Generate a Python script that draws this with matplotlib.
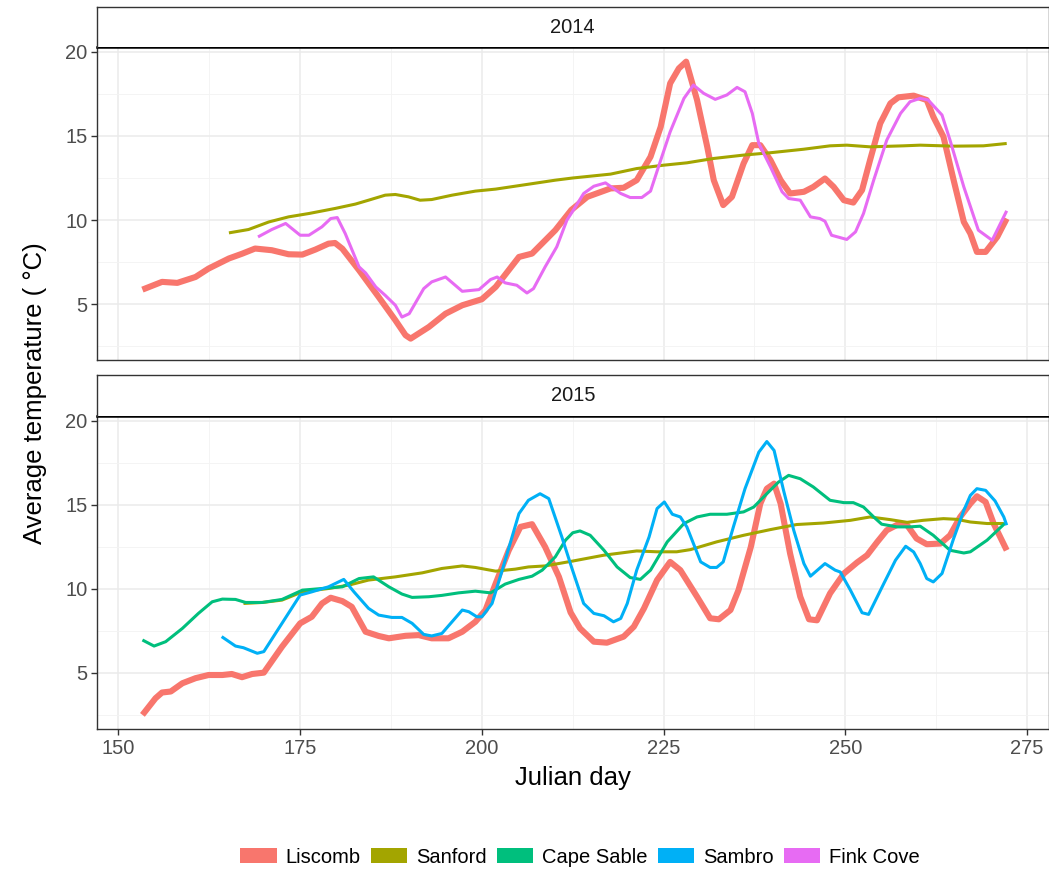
import matplotlib
matplotlib.use("Agg")
import matplotlib.pyplot as plt
from matplotlib.patches import Patch
from matplotlib.ticker import MultipleLocator

plt.rcParams['font.family'] = ['Liberation Sans', 'DejaVu Sans']

# ---------------- data ----------------
site_names = ["Liscomb", "Sanford", "Cape Sable", "Sambro", "Fink Cove"]
site_colors = ["#F8766D", "#A3A500", "#00BF7D", "#00B0F6", "#E76BF3"]
x_ticks = [150, 175, 200, 225, 250, 275]
y_ticks = [5, 10, 15, 20]
years = ["2014", "2015"]

# 2014
liscomb_2014_day = [153.3, 156, 158.1, 160.6, 162.4, 165.2, 167, 168.8, 171.1, 173.4, 175.3, 177.1, 178.9, 179.8,
                    180.8, 183.1, 185.8, 188.1, 189.5, 190.2, 192.7, 195, 197.3, 200, 201.9, 205.1, 206.9, 210.1,
                    212.3, 214.5, 217.7, 219.5, 221.3, 223.2, 224.6, 225.9, 227.1, 228.1, 229.6, 231, 231.9, 233.2,
                    234.4, 236, 237.2, 238.3, 239.7, 241.1, 242.4, 244.3, 245.6, 247.2, 248.4, 249.8, 251.1, 252.3,
                    253.4, 254.8, 256.2, 257.3, 259.4, 261.2, 262.1, 263.5, 264.9, 266.3, 267.2, 268.1, 269.3,
                    270.9, 272.2]
liscomb_2014_temp = [5.87, 6.33, 6.27, 6.62, 7.12, 7.72, 8.0, 8.31, 8.21, 7.97, 7.95, 8.25, 8.6, 8.64,
                     8.3, 7.02, 5.43, 4.05, 3.16, 2.96, 3.65, 4.44, 4.94, 5.3, 6.03, 7.81, 8.01, 9.4,
                     10.6, 11.38, 11.88, 11.92, 12.37, 13.76, 15.54, 18.12, 19.01, 19.41, 17.13, 14.35, 12.37, 10.89,
                     11.38, 13.36, 14.45, 14.45, 13.56, 12.37, 11.58, 11.68, 11.97, 12.47, 11.97, 11.18, 11.04, 11.78,
                     13.56, 15.74, 16.93, 17.29, 17.39, 17.13, 16.14, 14.95, 12.37, 9.89, 9.2, 8.11, 8.11,
                     9.0, 10.09]

sanford_2014_day = [165.2, 167.9, 170.7, 173.4, 176.2, 179.8, 182.6, 184.4, 186.7, 188.1, 189.9, 191.5, 193.1,
                    195.9, 199.1, 201.9, 206.4, 210.1, 212.5, 217.7, 221.3, 225, 228.2, 231.9, 236, 239.7, 244.3,
                    247.9, 250.2, 253.4, 258, 260.3, 264.9, 269, 272.2]
sanford_2014_temp = [9.24, 9.44, 9.89, 10.19, 10.39, 10.69, 10.95, 11.18, 11.48, 11.52, 11.38, 11.18, 11.22,
                     11.48, 11.72, 11.84, 12.13, 12.37, 12.5, 12.73, 13.06, 13.26, 13.4, 13.66, 13.86, 14.0, 14.21,
                     14.41, 14.45, 14.35, 14.41, 14.45, 14.39, 14.41, 14.55]

fink_2014_day = [169.2, 171.1, 173, 175, 176.2, 178, 179.2, 180.1, 181.2, 183.1, 184, 185.4, 186.7, 188.1, 189,
                 190, 192, 193.1, 195, 197.3, 199.6, 201.2, 202.1, 203.2, 204.8, 206.2, 207.1, 208.7, 210.3, 211.7,
                 212.6, 214, 215.4, 217, 219.1, 220.4, 222, 223.2, 224.6, 225.9, 227.8, 229.1, 230.5, 232.1, 233.7,
                 235.1, 236.2, 237.2, 238.1, 239.7, 241.3, 242.2, 243.8, 245.2, 246.5, 247.2, 248.1, 250.2, 251.4,
                 252.5, 253.9, 255.7, 257.6, 258.9, 260.3, 261.4, 263.3, 264.4, 266.3, 268.3, 270.2, 272.2]
fink_2014_temp = [9.0, 9.44, 9.8, 9.1, 9.1, 9.6, 10.09, 10.15, 9.2, 7.22, 6.86, 6.03, 5.53, 4.94, 4.24,
                  4.44, 5.93, 6.33, 6.62, 5.77, 5.87, 6.47, 6.62, 6.27, 6.13, 5.67, 5.93, 7.22, 8.41, 10.0,
                  10.6, 11.58, 12.01, 12.21, 11.58, 11.34, 11.34, 11.72, 13.56, 15.24, 17.23, 18.02, 17.53, 17.17, 17.43,
                  17.88, 17.62, 16.34, 14.55, 13.16, 11.68, 11.28, 11.18, 10.19, 10.09, 9.93, 9.1, 8.85, 9.3,
                  10.39, 12.37, 14.75, 16.34, 17.03, 17.23, 17.13, 16.24, 14.75, 11.97, 9.4, 8.8, 10.55]

# 2015
liscomb_2015_day = [153.3, 155.1, 156, 157.2, 158.8, 160.6, 162.4, 164.3, 165.6, 167, 168.4, 170, 172.5, 175,
                    176.6, 178, 179.2, 180.8, 182.1, 184, 185.8, 187.2, 189.5, 191.3, 193.1, 195.4, 197.3, 199.1,
                    200.5, 201.9, 203.7, 205.3, 206.9, 208.7, 210.6, 212.2, 213.5, 215.4, 217.2, 219.5, 220.9,
                    222.3, 224.1, 225.9, 227.3, 229.6, 231.4, 232.6, 234.2, 235.3, 237, 238.3, 239.2, 240.2, 241.1,
                    242.4, 243.8, 245, 246.1, 247.9, 249.8, 251.6, 253, 254.4, 255.7, 257.3, 258.5, 259.8, 261.2,
                    263.1, 264.4, 265.8, 267.2, 268.1, 269.3, 270.4, 272.2]
liscomb_2015_temp = [2.51, 3.5, 3.84, 3.9, 4.39, 4.69, 4.88, 4.88, 4.94, 4.75, 4.94, 5.02, 6.56, 7.95,
                     8.34, 9.13, 9.47, 9.27, 8.93, 7.45, 7.2, 7.06, 7.21, 7.25, 7.06, 7.06, 7.45, 8.04,
                     8.74, 10.32, 12.29, 13.68, 13.84, 12.49, 10.71, 8.6, 7.65, 6.86, 6.8, 7.16, 7.75,
                     8.84, 10.52, 11.6, 11.11, 9.53, 8.25, 8.19, 8.74, 9.92, 12.49, 15.06, 15.95, 16.25, 15.06,
                     12.1, 9.53, 8.19, 8.13, 9.73, 10.91, 11.56, 12.0, 12.79, 13.48, 13.84, 13.78, 12.99, 12.65,
                     12.69, 13.18, 14.27, 15.06, 15.5, 15.16, 13.88, 12.29]

sanford_2015_day = [167.2, 169.8, 172.5, 175.3, 178.9, 181.7, 184.4, 188.1, 191.8, 194.5, 197.3, 199.1, 201.9,
                    204.6, 206.4, 208.7, 212.5, 216.8, 221.3, 224.1, 226.8, 228.7, 232.3, 236, 239.7, 243.3, 247,
                    250.7, 253.4, 256.2, 258.5, 260.7, 263.5, 265.3, 267.2, 269.5, 271.8]
sanford_2015_temp = [9.13, 9.19, 9.33, 9.82, 10.02, 10.22, 10.52, 10.71, 10.95, 11.21, 11.36, 11.27, 11.05,
                     11.17, 11.3, 11.36, 11.65, 12.0, 12.25, 12.2, 12.2, 12.33, 12.79, 13.18, 13.52, 13.82, 13.91,
                     14.07, 14.27, 14.11, 13.95, 14.07, 14.17, 14.13, 13.97, 13.88, 13.88]

capesable_2015_day = [153.3, 154.9, 156.5, 158.8, 161, 162.9, 164.3, 166.1, 167.5, 169.8, 172.5, 175.3, 178,
                      180.8, 183.1, 185.1, 187.2, 189, 190.4, 192.7, 194.5, 196.8, 199.1, 201.2, 203.2, 205.1,
                      206.9, 208.3, 210.1, 211.5, 212.5, 213.5, 214.9, 216.8, 218.6, 220.4, 221.8, 223.2, 225.5,
                      227.8, 229.6, 231.4, 233.7, 236, 237.4, 239.2, 240.8, 242.2, 243.8, 245.6, 247.9, 249.8,
                      251.1, 252.5, 253.9, 255, 257.1, 258.9, 260.3, 262.1, 264.4, 266.3, 267.2, 269.5, 272]
capesable_2015_temp = [6.96, 6.6, 6.86, 7.65, 8.54, 9.23, 9.39, 9.37, 9.19, 9.19, 9.37, 9.92, 10.02,
                       10.12, 10.61, 10.71, 10.12, 9.69, 9.49, 9.53, 9.61, 9.76, 9.86, 9.76, 10.28, 10.56,
                       10.75, 11.11, 11.9, 12.89, 13.33, 13.44, 13.18, 12.29, 11.3, 10.67, 10.56, 11.11, 12.79,
                       13.88, 14.27, 14.43, 14.43, 14.57, 14.86, 15.65, 16.34, 16.74, 16.54, 16.05, 15.26, 15.12,
                       15.12, 14.86, 14.27, 13.84, 13.68, 13.68, 13.72, 13.18, 12.29, 12.13, 12.2, 12.89, 13.91]

sambro_2015_day = [164.2, 166.1, 167.2, 169.1, 170, 172.5, 175, 176.6, 178.9, 181, 182.4, 184.4, 185.8, 187.6,
                   189, 190.4, 192, 193.1, 194.5, 197.3, 198.2, 199.3, 200, 201.4, 202.8, 205.1, 206.4, 208,
                   209.2, 211, 212.4, 214, 215.4, 216.8, 218.1, 219.1, 220, 221.3, 223, 224.1, 225.1, 226.2,
                   227.3, 228.2, 230.1, 231.4, 232.3, 233.2, 234.6, 236.2, 238.1, 239.2, 240.2, 241.5, 242.9,
                   244.3, 245.2, 247.2, 248.6, 249.3, 250.7, 252.3, 253.2, 255.3, 256.9, 258.3, 259.4, 260.3,
                   261.2, 262.1, 263.3, 264.9, 266.3, 267.2, 268.1, 269.3, 270.6, 271.8, 272.2]
sambro_2015_temp = [7.16, 6.6, 6.5, 6.17, 6.27, 7.95, 9.63, 9.82, 10.12, 10.56, 9.82, 8.84, 8.44, 8.3,
                    8.3, 7.95, 7.29, 7.2, 7.35, 8.74, 8.64, 8.34, 8.34, 9.13, 11.11, 14.47, 15.26, 15.65,
                    15.36, 13.08, 11.2, 9.13, 8.54, 8.4, 8.04, 8.24, 9.13, 11.11, 13.08, 14.77, 15.16, 14.43,
                    14.27, 13.68, 11.6, 11.27, 11.27, 11.6, 13.68, 15.95, 18.12, 18.75, 18.22, 15.85, 13.48,
                    11.5, 10.75, 11.5, 11.11, 11.0, 9.92, 8.58, 8.48, 10.32, 11.7, 12.53, 12.19, 11.5,
                    10.61, 10.41, 10.91, 12.99, 14.66, 15.55, 15.95, 15.85, 15.22, 14.27, 13.78]

panels = {
    "2014": [("Liscomb", liscomb_2014_day, liscomb_2014_temp),
             ("Sanford", sanford_2014_day, sanford_2014_temp),
             ("Fink Cove", fink_2014_day, fink_2014_temp)],
    "2015": [("Liscomb", liscomb_2015_day, liscomb_2015_temp),
             ("Sanford", sanford_2015_day, sanford_2015_temp),
             ("Cape Sable", capesable_2015_day, capesable_2015_temp),
             ("Sambro", sambro_2015_day, sambro_2015_temp)],
}
line_width = {"Liscomb": 4.4}
default_lw = 2.2

# ---------------- layout ----------------
W, H = 1049, 871
fig = plt.figure(figsize=(W / 100, H / 100), dpi=100)
fig.patch.set_facecolor("white")

left, right = 97, 1048.5
panel_px = [(7, 47.5, 360.5), (375, 416.3, 729.2)]  # strip top, plot top, plot bottom

xlim = (147.05, 277.95)
ylim = (1.66, 20.25)
grey20 = "#333333"
grey30 = "#4D4D4D"
tick_fs = 14.5

axes = []
for i, (year, (st, pt, pb)) in enumerate(zip(years, panel_px)):
    ax = fig.add_axes([left / W, 1 - pb / H, (right - left) / W, (pb - pt) / H])
    ax.set_xlim(*xlim)
    ax.set_ylim(*ylim)
    ax.set_facecolor("white")
    ax.xaxis.set_major_locator(MultipleLocator(25))
    ax.xaxis.set_minor_locator(MultipleLocator(12.5))
    ax.yaxis.set_major_locator(MultipleLocator(5))
    ax.yaxis.set_minor_locator(MultipleLocator(2.5))
    ax.set_yticks(y_ticks)
    ax.grid(which="major", color="#EBEBEB", lw=1.1)
    ax.grid(which="minor", color="#F3F3F3", lw=0.6)
    ax.set_axisbelow(True)
    for s in ax.spines.values():
        s.set_color(grey20)
        s.set_linewidth(1.0)
    ax.spines["top"].set_color("black")
    ax.spines["top"].set_linewidth(1.8)
    ax.tick_params(which="major", length=4.5, width=1.0, color=grey20, labelcolor=grey30,
                   labelsize=tick_fs, pad=2.5)
    ax.tick_params(which="minor", length=0)
    if i == 0:
        ax.tick_params(axis="x", labelbottom=False, length=0)
    else:
        ax.set_xticks(x_ticks)

    for name, days, temps in panels[year]:
        idx = site_names.index(name)
        ax.plot(days, temps, color=site_colors[idx], lw=line_width.get(name, default_lw),
                solid_capstyle="butt", solid_joinstyle="round", zorder=3 + idx)

    # strip
    sax = fig.add_axes([left / W, 1 - pt / H, (right - left) / W, (pt - st) / H])
    sax.set_xticks([])
    sax.set_yticks([])
    sax.set_facecolor("white")
    for s in sax.spines.values():
        s.set_color(grey20)
        s.set_linewidth(1.0)
    sax.spines["bottom"].set_visible(False)
    sax.text(0.5, 0.5, year, transform=sax.transAxes, ha="center", va="center",
             fontsize=tick_fs, color="#1A1A1A")
    axes.append(ax)

axes[1].set_xlabel("Julian day", fontsize=18.5, color="black", labelpad=6)
fig.text(35 / W, 1 - 393.5 / H, "Average temperature ( °C)", rotation=90, ha="center", va="center",
         fontsize=18.5, color="black")

handles = [Patch(facecolor=c, edgecolor="none", label=n) for n, c in zip(site_names, site_colors)]
fig.legend(handles=handles, loc="center", bbox_to_anchor=(580 / W, 1 - 857 / H), ncol=5,
           frameon=False, fontsize=tick_fs, handlelength=1.8, handleheight=0.8,
           handletextpad=0.45, columnspacing=0.5, borderaxespad=0)

fig.savefig("out.png", dpi=100, facecolor="white")
